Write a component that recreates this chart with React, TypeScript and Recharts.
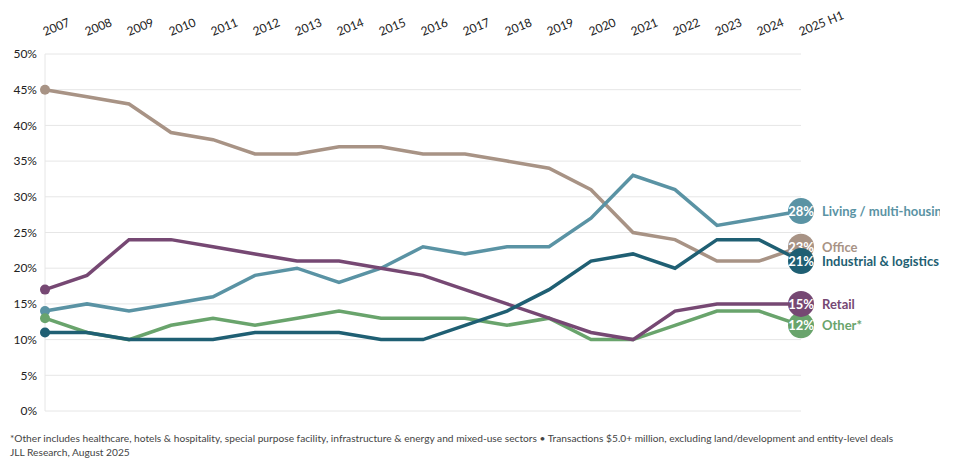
import React from 'react';
import { LineChart, Line, XAxis, YAxis, CartesianGrid } from 'recharts';

const years = ['2007', '2008', '2009', '2010', '2011', '2012', '2013', '2014', '2015', '2016', '2017', '2018', '2019', '2020', '2021', '2022', '2023', '2024', '2025 H1'];

const office = [45, 44, 43, 39, 38, 36, 36, 37, 37, 36, 36, 35, 34, 31, 25, 24, 21, 21, 23];
const living = [14, 15, 14, 15, 16, 19, 20, 18, 20, 23, 22, 23, 23, 27, 33, 31, 26, 27, 28];
const other = [13, 11, 10, 12, 13, 12, 13, 14, 13, 13, 13, 12, 13, 10, 10, 12, 14, 14, 12];
const retail = [17, 19, 24, 24, 23, 22, 21, 21, 20, 19, 17, 15, 13, 11, 10, 14, 15, 15, 15];
const industrial = [11, 11, 10, 10, 10, 11, 11, 11, 10, 10, 12, 14, 17, 21, 22, 20, 24, 24, 21];

const yTicks = [0, 5, 10, 15, 20, 25, 30, 35, 40, 45, 50];

const series = [
  { key: 'office', name: 'Office', color: '#a89385' },
  { key: 'living', name: 'Living / multi-housing', color: '#5a93a4' },
  { key: 'other', name: 'Other*', color: '#69a46c' },
  { key: 'retail', name: 'Retail', color: '#764873' },
  { key: 'industrial', name: 'Industrial & logistics', color: '#1f5f73' },
];

const data = years.map((year, i) => ({
  year,
  office: office[i],
  living: living[i],
  other: other[i],
  retail: retail[i],
  industrial: industrial[i],
}));

const last = years.length - 1;

const YearTick = (props: any) => {
  const { x, y, payload } = props;
  const ty = y - 10;
  return (
    <text x={x} y={ty} transform={`rotate(-22, ${x}, ${ty})`} textAnchor="start" fontSize={12} fill="#222">
      {payload.value}
    </text>
  );
};

const makeDot = (color: string, name: string) => (props: any) => {
  const { cx, cy, index, value } = props;
  if (index === 0) {
    return <circle key={`d${index}`} cx={cx} cy={cy} r={5} fill={color} />;
  }
  if (index === last) {
    return (
      <g key={`d${index}`}>
        <circle cx={cx} cy={cy} r={13} fill={color} />
        <text x={cx} y={cy + 5} textAnchor="middle" fontSize={13} fontWeight="bold" fill="#fff">
          {`${value}%`}
        </text>
        <text x={cx + 21} y={cy + 5} textAnchor="start" fontSize={13} fontWeight="bold" fill={color}>
          {name}
        </text>
      </g>
    );
  }
  return <g key={`d${index}`} />;
};

export default function App() {
  return (
    <div style={{ fontFamily: 'Lato, sans-serif', width: 945 }}>
      <LineChart width={932} height={410} data={data} margin={{ top: 0, right: 139, left: 0, bottom: 7 }}>
        <CartesianGrid horizontal vertical={false} stroke="#e6e6e6" />
        <XAxis
          dataKey="year"
          orientation="top"
          height={46}
          axisLine={false}
          tickLine={false}
          interval={0}
          tick={<YearTick />}
        />
        <YAxis
          domain={[0, 50]}
          ticks={yTicks}
          interval={0}
          width={37}
          axisLine={{ stroke: '#e6e6e6' }}
          tickLine={false}
          tick={{ fontSize: 12, fill: '#222' }}
          tickFormatter={(v: number) => `${v}%`}
        />
        {series.map((s) => (
          <Line
            key={s.key}
            type="linear"
            dataKey={s.key}
            stroke={s.color}
            strokeWidth={3.5}
            dot={makeDot(s.color, s.name)}
            activeDot={false}
            isAnimationActive={false}
          />
        ))}
      </LineChart>
      <div style={{ fontSize: 10.2, color: '#444', lineHeight: '14px', marginTop: 13, marginLeft: 2, whiteSpace: 'nowrap' }}>
        <div>*Other includes healthcare, hotels &amp; hospitality, special purpose facility, infrastructure &amp; energy and mixed-use sectors • Transactions $5.0+ million, excluding land/development and entity-level deals</div>
        <div>JLL Research, August 2025</div>
      </div>
    </div>
  );
}
